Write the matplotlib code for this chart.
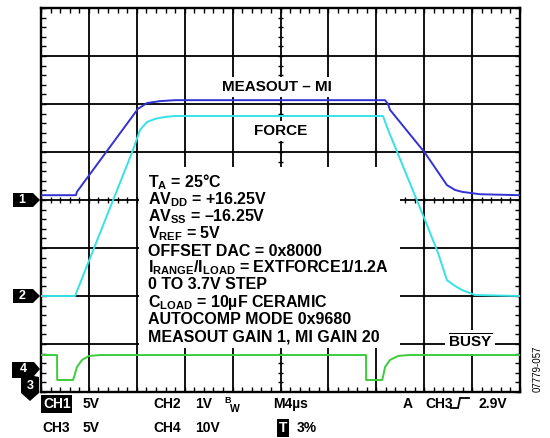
import numpy as np
import matplotlib.pyplot as plt
from matplotlib.patches import Polygon, Rectangle

plt.rcParams['font.family'] = ['Liberation Sans', 'DejaVu Sans']
plt.rcParams['mathtext.fontset'] = 'custom'
plt.rcParams['mathtext.rm'] = 'Liberation Sans:bold'
plt.rcParams['mathtext.it'] = 'Liberation Sans:bold'
plt.rcParams['mathtext.bf'] = 'Liberation Sans:bold'

# scope settings
us_per_div = 4.0
n_xdiv, n_ydiv = 10, 8
volts_per_div = {1: 5.0, 2: 1.0, 3: 5.0}
offset_div = {1: 0.0, 2: -2.0, 3: -4.0}

# CH1: MEASOUT - MI (V)
t_meas = [0, 2.92, 3.0, 8.10, 8.85, 9.94, 11.2, 28.73, 28.98, 29.14,
          32.07, 33.9, 34.57, 35.16, 36.66, 40]
v_meas = [0.5, 0.5, 0.85, 9.5, 10.1, 10.3, 10.4, 10.4, 10.0, 9.4,
          4.9, 1.55, 1.05, 0.85, 0.6, 0.5]

# CH2: FORCE (V)
t_force = [0, 2.84, 7.68, 8.27, 8.85, 9.52, 10.35, 11.2, 28.56, 28.89,
           32.07, 33.15, 33.9, 34.57, 35.16, 36.24, 40]
v_force = [0, 0, 3.04, 3.46, 3.625, 3.69, 3.73, 3.75, 3.75, 3.52,
           1.58, 0.90, 0.33, 0.21, 0.125, 0.02, 0]

# CH3: BUSY (V)
t_busy = [0, 1.34, 1.35, 2.67, 2.76, 3.0, 3.42, 4.0, 4.93,
          27.14, 27.15, 28.48, 28.56, 28.73, 29.14, 29.81, 30.65, 40]
v_busy = [3.85, 3.85, 1.25, 1.25, 1.56, 2.6, 3.33, 3.75, 3.85,
          3.85, 1.25, 1.25, 1.56, 2.6, 3.33, 3.75, 3.85, 3.85]

W, H = 550, 438
L, R, T, B = 41, 520, 8, 392


def pix(x, y):
    # picture pixel -> screen (us, div)
    return ((x - L) / (R - L) * n_xdiv * us_per_div,
            n_ydiv / 2 - (y - T) / (B - T) * n_ydiv)


def to_div(v, ch):
    return np.array(v) / volts_per_div[ch] + offset_div[ch]


fig = plt.figure(figsize=(W / 100, H / 100), dpi=100)
ax = fig.add_axes([L / W, (H - B) / H, (R - L) / W, (B - T) / H])
xmax = n_xdiv * us_per_div
ax.set_xlim(0, xmax)
ax.set_ylim(-n_ydiv / 2, n_ydiv / 2)

# graticule
for k in range(1, n_xdiv):
    ax.axvline(k * us_per_div, color='black', lw=1.3, zorder=1)
for k in range(-n_ydiv // 2 + 1, n_ydiv // 2):
    ax.axhline(k, color='black', lw=1.3, zorder=1)
xm = np.arange(0, xmax + 0.01, us_per_div / 5)
ym = np.arange(-4, 4.01, 0.2)
ax.vlines(xm, -0.07, 0.07, color='black', lw=1, zorder=1)
ax.hlines(ym, xmax / 2 - 0.25, xmax / 2 + 0.25, color='black', lw=1, zorder=1)
ax.set_xticks(xm)
ax.set_yticks(ym)
ax.tick_params(direction='in', length=3.6, width=1, top=True, right=True,
               labelbottom=False, labelleft=False, color='black')
for s in ax.spines.values():
    s.set_linewidth(1.7)

# blank area behind the conditions text
x0, y0 = pix(139, 348)
x1, y1 = pix(400, 167)
ax.add_patch(Rectangle((x0, y0), x1 - x0, y1 - y0, fc='white', ec='none', zorder=2))

# traces
ax.plot(t_meas, to_div(v_meas, 1), color='#3232d2', lw=1.4, zorder=4)
ax.plot(t_force, to_div(v_force, 2), color='#36e2e6', lw=1.4, zorder=4)
ax.plot(t_busy, to_div(v_busy, 3), color='#3ccc3c', lw=1.4, zorder=4)

lab = dict(fontsize=11, fontweight='bold', ha='center', va='baseline', zorder=3,
           bbox=dict(fc='white', ec='none', pad=2))
ax.text(*pix(277, 91), 'MEASOUT – MI', **lab)
ax.text(*pix(281, 135), 'FORCE', **lab)
ax.text(*pix(470, 348), r'$\overline{\rm BUSY}$', **lab)

cond = [r'T$_{\rm A}$ = 25°C',
        r'AV$_{\rm DD}$ = +16.25V',
        r'AV$_{\rm SS}$ = –16.25V',
        r'V$_{\rm REF}$ = 5V',
        'OFFSET DAC = 0x8000',
        r'I$_{\rm RANGE}$/I$_{\rm LOAD}$ = EXTFORCE1/1.2A',
        '0 TO 3.7V STEP',
        r'C$_{\rm LOAD}$ = 10µF CERAMIC',
        'AUTOCOMP MODE 0x9680',
        'MEASOUT GAIN 1, MI GAIN 20']
base = [187, 204, 221, 238, 256, 272, 289, 307, 324, 341]
for s, yb in zip(cond, base):
    ax.text(*pix(148, yb), s, fontsize=11.5, fontweight='bold', va='baseline', zorder=3)

# ground markers
def marker(pts, labels):
    ax.add_patch(Polygon([pix(*p) for p in pts], closed=True, fc='black', ec='none',
                         clip_on=False, zorder=5))
    for (x, y, s) in labels:
        ax.text(*pix(x, y), s, color='white', fontsize=9, fontweight='bold',
                ha='center', va='center', clip_on=False, zorder=6)

for ch in (1, 2):
    yp = T + (n_ydiv / 2 - offset_div[ch]) / n_ydiv * (B - T)
    marker([(13, yp - 7), (33, yp - 7), (40, yp), (33, yp + 7), (13, yp + 7)],
           [(22, yp, str(ch))])
marker([(12, 362), (34, 362), (40, 369), (34, 376), (39, 377), (39, 393), (30, 401),
        (21, 393), (21, 378), (12, 378)],
       [(23, 369, '4'), (30, 386, '3')])

# bottom readout
bt = dict(fontsize=10, fontweight='bold', va='baseline')
row1, row2 = 408, 432
ax.text(*pix(43, row1), 'CH1', color='white',
        bbox=dict(fc='black', ec='none', pad=1.2), **bt)
ax.text(*pix(83, row1), '5V', **bt)
ax.text(*pix(153, row1), 'CH2', **bt)
ax.text(*pix(195, row1), '1V', **bt)
ax.text(*pix(224, row1 - 5), 'B', fontsize=6.5, fontweight='bold', va='baseline')
ax.text(*pix(230, row1 + 4), 'W', fontsize=7.5, fontweight='bold', va='baseline')
ax.text(*pix(273, row1), 'M4µs', **bt)
ax.text(*pix(403, row1), 'A', **bt)
ax.text(*pix(425, row1), 'CH3', **bt)
tx, ty = zip(*[pix(451, 408), pix(458, 408), pix(460, 398), pix(469, 398)])
ax.plot(tx, ty, color='black', lw=1.3, clip_on=False, solid_joinstyle='miter')
ax.text(*pix(478, row1), '2.9V', **bt)
ax.text(*pix(42, row2), 'CH3', **bt)
ax.text(*pix(83, row2), '5V', **bt)
ax.text(*pix(153, row2), 'CH4', **bt)
ax.text(*pix(195, row2), '10V', **bt)
ax.text(*pix(279, row2), 'T', color='white',
        bbox=dict(fc='black', ec='none', pad=1.2), **bt)
ax.text(*pix(297, row2), '3%', **bt)

ax.text(*pix(538, 369), '07779-057', fontsize=7, rotation=90,
        ha='center', va='center')

fig.savefig('out.png', dpi=100)
